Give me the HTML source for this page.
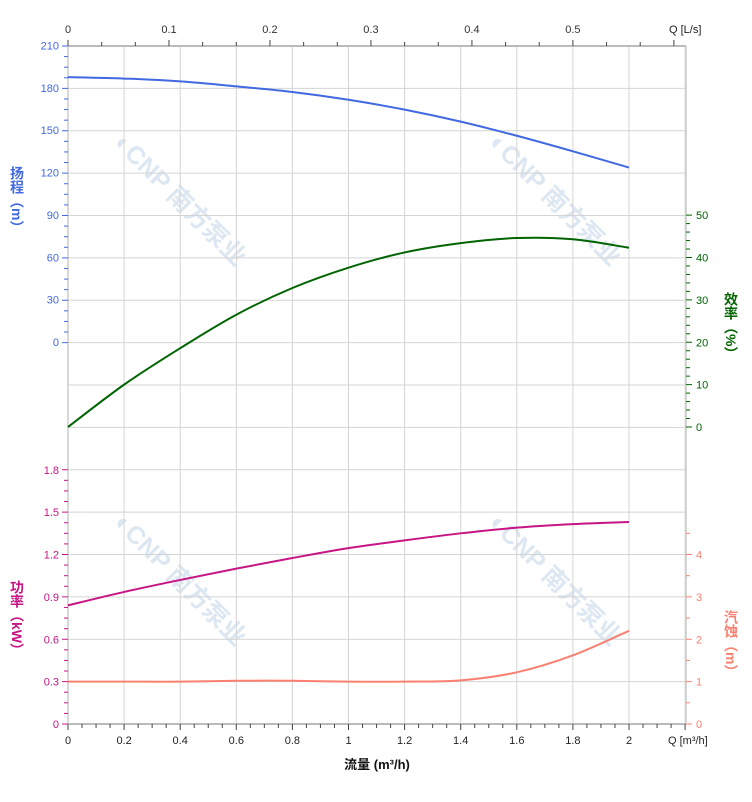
<!DOCTYPE html>
<html><head><meta charset="utf-8"><style>
html,body{margin:0;padding:0;background:#fff;}
svg text{font-family:"Liberation Sans","Noto Sans CJK SC",sans-serif;}
</style></head><body>
<svg id="c" width="752" height="797" xmlns="http://www.w3.org/2000/svg" font-size="11"></svg>
<script>
const flowQ=[0,0.2,0.4,0.6,0.8,1.0,1.2,1.4,1.6,1.8,2.0];
const headVals=[187.5,186.5,184.5,181,177,171.5,164.5,156,146,135,123.5];
const effVals=[0,10,18.6,26.5,32.8,37.6,41.2,43.4,44.6,44.3,42.3];
const powerVals=[0.84,0.935,1.02,1.1,1.175,1.245,1.3,1.35,1.39,1.415,1.43];
const npshVals=[1.0,1.0,1.0,1.02,1.02,1.0,1.0,1.03,1.22,1.62,2.2];
const xTicks=["0","0.2","0.4","0.6","0.8","1","1.2","1.4","1.6","1.8","2"];
const topTicks=["0","0.1","0.2","0.3","0.4","0.5"];
const headTicks=["0","30","60","90","120","150","180","210"];
const effTicks=["0","10","20","30","40","50"];
const powerTicks=["0","0.3","0.6","0.9","1.2","1.5","1.8"];
const npshTicks=["0","1","2","3","4"];

const svg=document.getElementById('c');
const NS='http://www.w3.org/2000/svg';
const L=68,R=686,T=46,B=724,STEP=42.375;
const X=q=>L+q*280.5;
const yHead=v=>342-v/30*STEP;
const yEff=v=>427-v/10*STEP;
const yPow=v=>B-v/0.3*STEP;
const yNpsh=v=>B-v*STEP;
function el(tag,a,txt){const e=document.createElementNS(NS,tag);for(const k in a)e.setAttribute(k,a[k]);if(txt!==undefined)e.textContent=txt;svg.appendChild(e);return e;}

// watermarks
[[180,200],[555,200],[180,580],[555,580]].forEach(p=>{
  const w=el('text',{x:p[0],y:p[1]+8,fill:'#dde7f1','font-size':'25','font-weight':'bold','text-anchor':'middle',transform:`rotate(45 ${p[0]} ${p[1]})`},'◐CNP 南方泵业');
  
  
});

// grid
for(let i=0;i<=16;i++){const y=T+i*STEP;const g=el('line',{x1:L,x2:R,y1:y,y2:y,stroke:'#d4d4d4','stroke-width':1});
}
for(let i=0;i<=11;i++){const x=L+i*56.1;const g=el('line',{x1:x,x2:x,y1:T,y2:B,stroke:'#d4d4d4','stroke-width':1});
}
el('line',{x1:L,x2:R,y1:T,y2:T,stroke:'#bbb','stroke-width':2});
el('line',{x1:L,x2:R,y1:B,y2:B,stroke:'#bbb','stroke-width':2});
el('line',{x1:L,x2:L,y1:T,y2:B,stroke:'#ccc','stroke-width':1.5});
el('line',{x1:R,x2:R,y1:T,y2:B,stroke:'#ccc','stroke-width':1.5});

// bottom ticks
for(let i=0;i<=44;i++){const x=L+i*14.025;el('line',{x1:x,x2:x,y1:B,y2:B+(i%4==0?6:4),stroke:'#444'});}
xTicks.forEach((t,i)=>{const e=el('text',{x:X(i*0.2),y:B+20,'text-anchor':'middle',fill:'#222'},t);
});
let e=el('text',{x:668,y:744,fill:'#222'},'Q [m³/h]');
e=el('text',{x:377,y:769,'text-anchor':'middle',fill:'#111','font-size':'13','font-weight':'bold'},'流量 (m³/h)');


// top ticks (L/s)
for(let i=0;i<=18;i++){const x=L+i*33.66;el('line',{x1:x,x2:x,y1:T-(i%3==0?6:4),y2:T,stroke:'#444'});}
topTicks.forEach((t,i)=>{const e=el('text',{x:L+i*100.98,y:33,'text-anchor':'middle',fill:'#333'},t);
});
e=el('text',{x:669,y:33,fill:'#222'},'Q [L/s]');

// left head axis
const HC='#4169e1';
for(let i=0;i<=28;i++){const y=T+i*STEP/4;el('line',{x1:L-(i%4==0?6:4),x2:L,y1:y,y2:y,stroke:HC});}
headTicks.forEach(t=>{const e=el('text',{x:L-9,y:yHead(+t)+4,'text-anchor':'end',fill:HC},t);
});
e=el('text',{x:17,y:166,fill:HC,'font-size':'14','font-weight':'bold','writing-mode':'tb'},'扬程（m）');


// left power axis
const PC='#c71585';
for(let i=0;i<=24;i++){const y=B-i*STEP/4;el('line',{x1:L-(i%4==0?6:4),x2:L,y1:y,y2:y,stroke:PC});}
powerTicks.forEach(t=>{const e=el('text',{x:L-9,y:yPow(+t)+4,'text-anchor':'end',fill:PC},t);
});
e=el('text',{x:17,y:580,fill:PC,'font-size':'14','font-weight':'bold','writing-mode':'tb'},'功率（kW）');


// right efficiency axis
const EC='#006400';
for(let i=0;i<=25;i++){const y=427-i*STEP/5;el('line',{x1:R,x2:R+(i%5==0?6:4),y1:y,y2:y,stroke:EC});}
effTicks.forEach(t=>{const e=el('text',{x:R+10,y:yEff(+t)+4,fill:EC},t);
});
e=el('text',{x:731,y:292,fill:EC,'font-size':'14','font-weight':'bold','writing-mode':'tb'},'效率（%）');


// right npsh axis
const NC='#fa8072';
for(let i=0;i<=9;i++){const y=B-i*STEP/2;el('line',{x1:R,x2:R+(i%2==0?6:4),y1:y,y2:y,stroke:NC});}
npshTicks.forEach(t=>{const e=el('text',{x:R+10,y:yNpsh(+t)+4,fill:NC},t);
});
e=el('text',{x:731,y:610,fill:NC,'font-size':'14','font-weight':'bold','writing-mode':'tb'},'汽蚀（m）');


// curves
function path(vals,yf){const p=flowQ.map((q,i)=>[X(q),yf(vals[i])]);let d=`M${p[0][0]},${p[0][1]}`;
for(let i=0;i<p.length-1;i++){const p0=p[i-1]||p[i],p1=p[i],p2=p[i+1],p3=p[i+2]||p2;
d+=` C${p1[0]+(p2[0]-p0[0])/6},${p1[1]+(p2[1]-p0[1])/6} ${p2[0]-(p3[0]-p1[0])/6},${p2[1]-(p3[1]-p1[1])/6} ${p2[0]},${p2[1]}`;}return d;}
let c=el('path',{d:path(headVals,yHead),fill:'none',stroke:HC,'stroke-width':2});

c=el('path',{d:path(effVals,yEff),fill:'none',stroke:EC,'stroke-width':2});

c=el('path',{d:path(powerVals,yPow),fill:'none',stroke:PC,'stroke-width':2});

c=el('path',{d:path(npshVals,yNpsh),fill:'none',stroke:NC,'stroke-width':2});

</script>
</body></html>
